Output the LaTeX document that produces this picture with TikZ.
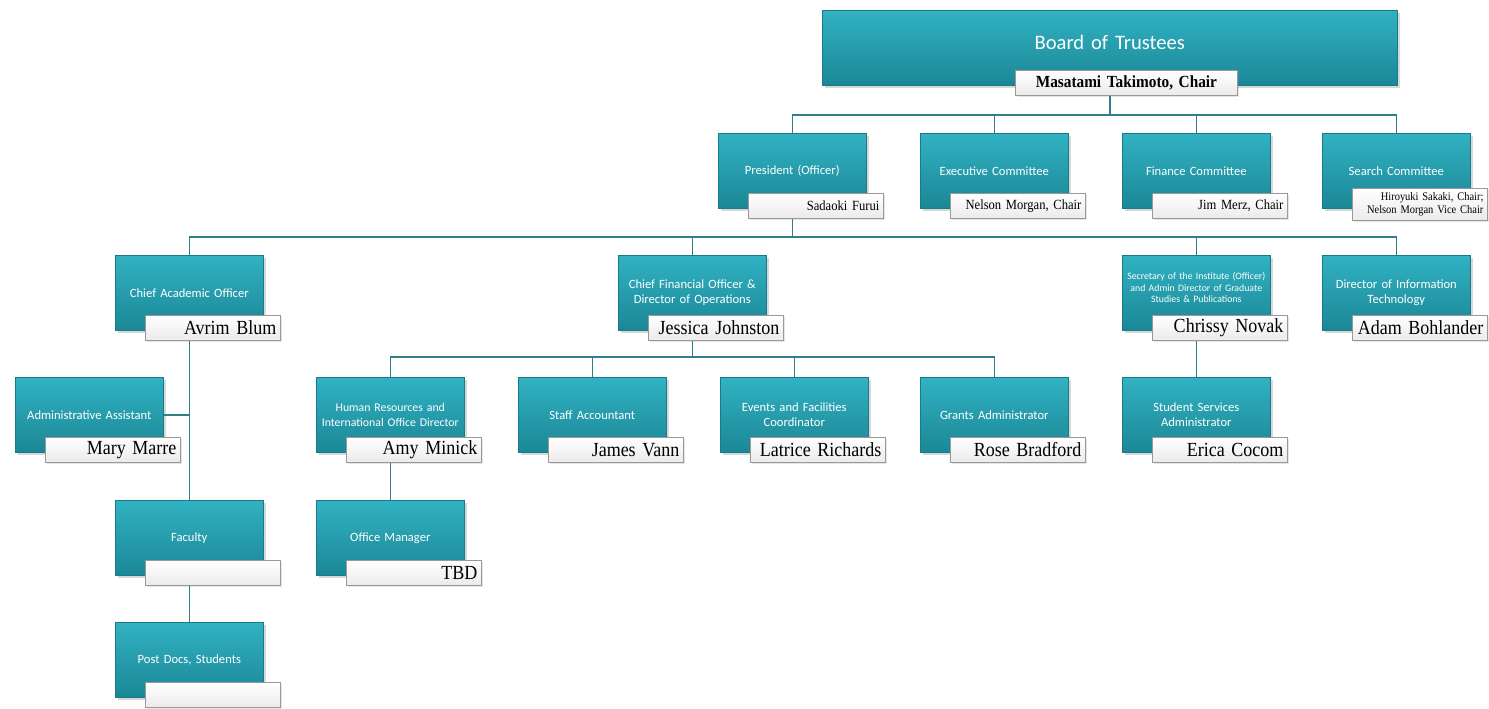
\documentclass[tikz,border=0pt]{standalone}
\usepackage{fontspec}
\setmainfont{Liberation Serif}
\newfontfamily\namefont[FakeStretch=0.9]{Liberation Serif}
\newfontfamily\rolefont{Carlito}
\newcommand\roleskip[1]{\endgraf\vskip#1}
\usetikzlibrary{shadows}
\begin{document}
\begin{tikzpicture}[x=0.5pt,y=-0.5pt,
  rolebox/.style={rectangle, anchor=north west, minimum width=74pt, minimum height=37.5pt, inner xsep=0pt, inner ysep=2pt, text width=74pt,
    top color=tealtop, bottom color=tealbot, draw=tealedge, line width=0.3pt, text=white, align=center,
    font=\rolefont\fontsize{6.3}{7.5}\selectfont, execute at begin node={\hyphenpenalty=10000},
    execute at end node={\roleskip{5pt}},
    drop shadow={shadow xshift=1.2pt, shadow yshift=-1.2pt, opacity=0.3}},
  namebox/.style={rectangle, anchor=north west, minimum height=12.5pt, text width=63.5pt, inner xsep=2pt, inner ysep=1pt,
    top color=white, bottom color=black!8, draw=black!40, line width=0.4pt, align=right,
    font=\namefont\fontsize{10}{11}\selectfont, execute at begin node={\hyphenpenalty=10000},
    drop shadow={shadow xshift=0.8pt, shadow yshift=-0.8pt, opacity=0.2}},
  smallname/.style={font=\namefont\fontsize{7}{8}\selectfont},
  link/.style={draw=linecol, line width=0.8pt}]
\definecolor{tealtop}{HTML}{31B2C2}
\definecolor{tealbot}{HTML}{1B8796}
\definecolor{tealedge}{HTML}{1A7A87}
\definecolor{linecol}{HTML}{2F7F8A}
\useasboundingbox (0,0) rectangle (1489,708);
\fill[white] (0,0) rectangle (1489,708);

\node[rolebox, minimum width=287.5pt, text width=287.5pt, execute at end node={\roleskip{7pt}}, font=\rolefont\fontsize{10.3}{12}\selectfont] (board) at (822,10) {Board of Trustees};
\node[namebox, text width=107pt, align=center, font=\namefont\bfseries\fontsize{8.5}{10}\selectfont] (boardname) at (1015,70) {Masatami Takimoto, Chair};

\node[rolebox] (pres) at (718,133) {President (Officer)};
\node[namebox, smallname] (presname) at (748,193) {Sadaoki Furui};
\node[rolebox] (exec) at (920,133) {Executive Committee};
\node[namebox, smallname] (execname) at (950,193) {Nelson Morgan, Chair};
\node[rolebox] (fin) at (1122,133) {Finance Committee};
\node[namebox, smallname] (finname) at (1152,193) {Jim Merz, Chair};
\node[rolebox] (search) at (1322,133) {Search Committee};
\node[namebox, minimum height=16pt, font=\namefont\fontsize{5.8}{6.3}\selectfont] (searchname) at (1352,188) {Hiroyuki Sakaki, Chair;\\ Nelson Morgan Vice Chair};

\node[rolebox] (cao) at (115,255) {Chief Academic Officer};
\node[namebox] (caoname) at (145,315) {Avrim Blum};
\node[rolebox] (cfo) at (618,255) {Chief Financial Officer \&\\ Director of Operations};
\node[namebox] (cfoname) at (648,315) {Jessica Johnston};
\node[rolebox, execute at end node={\roleskip{14pt}}, font=\rolefont\fontsize{4.9}{5.8}\selectfont] (sec) at (1122,255) {Secretary of the Institute (Officer)\\ and Admin Director of Graduate\\ Studies \& Publications};
\node[namebox] (secname) at (1152,315) {Chrissy Novak};
\node[rolebox] (dit) at (1322,255) {Director of Information\\ Technology};
\node[namebox] (ditname) at (1352,315) {Adam Bohlander};

\node[rolebox] (admin) at (15,377) {Administrative Assistant};
\node[namebox] (adminname) at (45,437) {Mary Marre};
\node[rolebox, font=\rolefont\fontsize{5.9}{7.2}\selectfont] (hr) at (316,377) {Human Resources and\\ International Office Director};
\node[namebox] (hrname) at (346,437) {Amy Minick};
\node[rolebox] (acct) at (518,377) {Staff Accountant};
\node[namebox] (acctname) at (548,437) {James Vann};
\node[rolebox] (events) at (720,377) {Events and Facilities\\ Coordinator};
\node[namebox] (eventsname) at (750,437) {Latrice Richards};
\node[rolebox] (grants) at (920,377) {Grants Administrator};
\node[namebox] (grantsname) at (950,437) {Rose Bradford};
\node[rolebox] (stud) at (1122,377) {Student Services\\ Administrator};
\node[namebox] (studname) at (1152,437) {Erica Cocom};

\node[rolebox] (faculty) at (115,500) {Faculty};
\node[namebox] (facultyname) at (145,560) {};
\node[rolebox] (office) at (316,500) {Office Manager};
\node[namebox] (officename) at (346,560) {TBD};

\node[rolebox] (postdocs) at (115,622) {Post Docs, Students};
\node[namebox] (postdocsname) at (145,682) {};

\coordinate (bar1) at (0,115);
\coordinate (bar2) at (0,237);
\coordinate (bar3) at (0,357);

\draw[link] (board.south |- boardname.south) -- (board.south |- bar1);
\draw[link] (pres.north) |- (search.north |- bar1) -- (search.north);
\draw[link] (exec.north) -- (exec.north |- bar1);
\draw[link] (fin.north) -- (fin.north |- bar1);

\draw[link] (pres.south |- presname.south) -- (pres.south |- bar2);
\draw[link] (cao.north) |- (dit.north |- bar2) -- (dit.north);
\draw[link] (cfo.north) -- (cfo.north |- bar2);
\draw[link] (sec.north) -- (sec.north |- bar2);

\draw[link] (cao.south |- caoname.south) -- (faculty.north);
\draw[link] (admin.east) -- (admin.east -| faculty.north);
\draw[link] (faculty.south |- facultyname.south) -- (postdocs.north);

\draw[link] (cfo.south |- cfoname.south) -- (cfo.south |- bar3);
\draw[link] (hr.north) |- (grants.north |- bar3) -- (grants.north);
\draw[link] (acct.north) -- (acct.north |- bar3);
\draw[link] (events.north) -- (events.north |- bar3);
\draw[link] (hr.south |- hrname.south) -- (office.north);

\draw[link] (sec.south |- secname.south) -- (stud.north);
\end{tikzpicture}
\end{document}
